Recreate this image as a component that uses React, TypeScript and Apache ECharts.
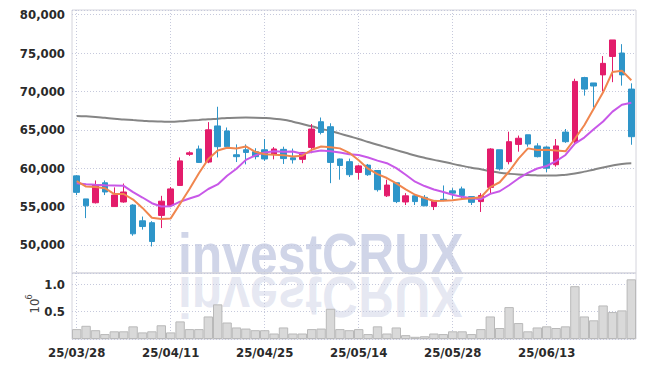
import React, { useEffect, useRef } from "react";
import * as echarts from "echarts";

const dates = ["25/03/28","25/03/31","25/04/01","25/04/02","25/04/03","25/04/04","25/04/07","25/04/08","25/04/09","25/04/10","25/04/11","25/04/14","25/04/15","25/04/16","25/04/17","25/04/18","25/04/21","25/04/22","25/04/23","25/04/24","25/04/25","25/04/28","25/04/29","25/04/30","25/05/02","25/05/07","25/05/08","25/05/09","25/05/12","25/05/13","25/05/14","25/05/15","25/05/16","25/05/19","25/05/20","25/05/21","25/05/22","25/05/23","25/05/26","25/05/27","25/05/28","25/05/29","25/05/30","25/06/02","25/06/04","25/06/05","25/06/09","25/06/10","25/06/11","25/06/12","25/06/13","25/06/16","25/06/17","25/06/18","25/06/19","25/06/20","25/06/23","25/06/24","25/06/25","25/06/26"];

const opens = [59000,56000,55500,58100,55000,55600,55200,53150,52900,53850,55150,57750,61800,62500,60800,65500,64850,61750,62400,62150,62400,61800,62450,61350,61150,62700,66050,65400,61200,60850,59450,60400,59700,56400,58100,55600,56400,56200,55000,55950,57050,57300,56300,55650,57500,62400,60850,63100,64350,62900,62750,60450,64700,63450,71800,71100,72150,74550,75000,70300];
const closes = [56850,55100,57800,56900,56500,56900,51450,52400,50450,55700,57300,60950,62000,60750,65000,62800,62800,61500,62050,61500,61200,62500,61250,61100,62050,65100,64650,60750,60350,59150,60300,59150,57200,57800,55650,56400,55650,55100,55800,55850,56750,56450,55550,56450,62500,59900,63450,63900,63150,61500,60000,62900,63450,71300,70300,70700,73650,76700,72150,64100];
const lows = [56500,53500,55400,56500,55000,55500,51200,52000,49800,52200,55000,57700,61600,60700,60650,61400,62650,60800,60500,61150,60950,61150,60550,60600,60650,61950,64400,58050,58500,58850,58500,59000,56950,56250,55450,55200,55200,55050,54550,55700,56000,55900,55200,54300,56750,59700,60500,62150,62800,61400,59500,60200,63300,63250,69450,67900,70000,71200,70750,63050];
const highs = [59100,56000,58400,58400,57500,58000,55300,53700,53100,56400,57550,61400,62200,62950,66000,68000,65300,63100,63100,62600,63800,62750,62800,62550,62100,65750,66600,65850,61250,61250,60450,60550,59750,58500,58100,56750,56550,56500,55800,57750,57400,57600,56300,56750,62600,62400,64750,64250,64350,63250,62850,63800,65100,71650,71900,71100,74600,76700,76150,71050];

const ma5 = [58300,57600,57550,57400,56630,56640,55910,54830,53540,53380,53460,55360,57280,59340,61200,62300,62670,62570,62830,62130,61810,61750,61700,61510,61620,62400,62830,62730,62580,62000,61040,59940,59230,58720,58020,57240,56540,56120,55720,55760,55830,55990,56080,56210,57540,58170,59570,61240,62580,62380,62400,62290,62200,63830,65590,67730,69880,72530,72700,71460];
const ma10 = [58050,57920,57830,57780,57740,57700,56880,56180,55440,55010,55050,55635,56055,56440,57290,57880,59015,59925,61085,61665,62055,62210,62135,62170,61875,62105,62290,62215,62045,61810,61720,61385,60980,60650,60010,59140,58240,57675,57220,56890,56535,56265,56100,55965,56650,57000,57780,58660,59395,59960,60285,60930,61720,63205,63985,65065,66085,67365,68265,68525];
const ma60 = [66800,66750,66680,66560,66440,66350,66260,66180,66100,66070,66050,66100,66200,66290,66380,66450,66530,66580,66590,66580,66530,66440,66300,66050,65750,65450,65120,64850,64500,64150,63800,63420,63050,62700,62350,62000,61650,61350,61080,60850,60560,60300,60050,59850,59600,59420,59280,59170,59100,59060,59040,59050,59150,59300,59550,59800,60100,60350,60550,60650];

// volume in millions (10^6)
const volumes = [0.18,0.24,0.16,0.09,0.14,0.14,0.23,0.12,0.14,0.25,0.12,0.32,0.18,0.18,0.41,0.63,0.30,0.21,0.19,0.16,0.16,0.10,0.21,0.10,0.10,0.18,0.19,0.55,0.18,0.16,0.18,0.09,0.23,0.10,0.21,0.07,0.04,0.05,0.10,0.09,0.14,0.14,0.09,0.18,0.41,0.20,0.58,0.29,0.14,0.21,0.23,0.20,0.23,0.96,0.41,0.34,0.61,0.49,0.52,1.085];

const UP = "#e31c6b";
const DOWN = "#2e95c9";

export default function App() {
  const ref = useRef<HTMLDivElement>(null);
  useEffect(() => {
    document.body.style.margin = "0";
    const chart = echarts.init(ref.current!, null, { renderer: "svg" });
    const ohlc = dates.map((_, i) => [opens[i], closes[i], lows[i], highs[i]]);
    const axisFont = "'DejaVu Sans Condensed', 'Liberation Sans Narrow', Roboto, sans-serif";
    const dotted = { type: [1, 2] as any, color: "#c6c9dc", width: 1 };
    const labelStyle = { fontFamily: axisFont, fontSize: 13, fontWeight: "bold" as const, color: "#2a2a2a" };
    const wmColor = "#d0d5e8";
    const wmFont = "'Liberation Sans', Arial, sans-serif";
    chart.setOption({
      animation: false,
      backgroundColor: "#fff",
      grid: [
        { left: 72, right: 9, top: 10, height: 263, show: true, borderColor: "#d4d4dc", borderWidth: 1, backgroundColor: "transparent" },
        { left: 72, right: 9, top: 273, height: 66, show: true, borderColor: "#d4d4dc", borderWidth: 1, backgroundColor: "transparent" },
      ],
      xAxis: [
        {
          type: "category", gridIndex: 0, data: dates, boundaryGap: true,
          axisLine: { show: false }, axisTick: { show: false }, axisLabel: { show: false },
          splitLine: { show: true, interval: 9, alignWithLabel: true, lineStyle: dotted },
        },
        {
          type: "category", gridIndex: 1, data: dates, boundaryGap: true,
          axisLine: { show: false }, axisTick: { show: false },
          axisLabel: { show: true, interval: 9, margin: 7, ...labelStyle },
          splitLine: { show: true, interval: 9, alignWithLabel: true, lineStyle: dotted },
        },
      ],
      yAxis: [
        {
          type: "value", gridIndex: 0, min: 46350, max: 80600, splitNumber: 7, scale: true,
          axisLine: { show: false }, axisTick: { show: false },
          axisLabel: {
            ...labelStyle, margin: 7, showMinLabel: false, showMaxLabel: false,
            formatter: (v: number) => v.toLocaleString("en-US"),
          },
          splitLine: { show: true, lineStyle: dotted },
        },
        {
          type: "value", gridIndex: 1, min: 0, max: 1.2, interval: 0.5,
          axisLine: { show: false }, axisTick: { show: false },
          axisLabel: {
            ...labelStyle, margin: 7, showMinLabel: false, showMaxLabel: false,
            formatter: (v: number) => v.toFixed(1),
          },
          splitLine: { show: true, lineStyle: dotted },
        },
      ],
      graphic: [
        {
          type: "text", x: 178, y: 254, scaleX: 0.86, z: -1, silent: true,
          style: { text: "investCRUX", fill: wmColor, font: `bold 58px ${wmFont}`, align: "left", verticalAlign: "middle" },
        },
        {
          type: "text", x: 178, y: 297, scaleX: 0.86, scaleY: -1, z: -1, silent: true,
          style: { text: "investCRUX", fill: wmColor, opacity: 0.55, font: `bold 58px ${wmFont}`, align: "left", verticalAlign: "middle" },
        },
        {
          type: "text", x: 34, y: 306, rotation: Math.PI / 2, silent: true,
          style: { text: "10", fill: "#444", font: `13px ${axisFont}`, align: "center", verticalAlign: "middle" },
        },
        {
          type: "text", x: 29, y: 297, rotation: Math.PI / 2, silent: true,
          style: { text: "6", fill: "#444", font: `9px ${axisFont}`, align: "center", verticalAlign: "middle" },
        },
      ],
      series: [
        {
          type: "candlestick", xAxisIndex: 0, yAxisIndex: 0, data: ohlc, barWidth: 6,
          itemStyle: { color: UP, color0: DOWN, borderColor: UP, borderColor0: DOWN, borderWidth: 1 },
          z: 3,
        },
        {
          type: "line", xAxisIndex: 0, yAxisIndex: 0, data: ma60, symbol: "none", smooth: true,
          lineStyle: { color: "#858585", width: 2 }, z: 2,
        },
        {
          type: "line", xAxisIndex: 0, yAxisIndex: 0, data: ma10, symbol: "none",
          lineStyle: { color: "#c858e8", width: 2 }, z: 4,
        },
        {
          type: "line", xAxisIndex: 0, yAxisIndex: 0, data: ma5, symbol: "none",
          lineStyle: { color: "#f0864e", width: 2 }, z: 5,
        },
        {
          type: "bar", xAxisIndex: 1, yAxisIndex: 1, data: volumes, barWidth: "100%",
          itemStyle: { color: "#d9d9d9", borderColor: "#b9b9b9", borderWidth: 1 },
        },
      ],
    });
    return () => chart.dispose();
  }, []);
  return <div ref={ref} style={{ position: "fixed", left: 0, top: 0, width: 645, height: 367, background: "#fff" }} />;
}
